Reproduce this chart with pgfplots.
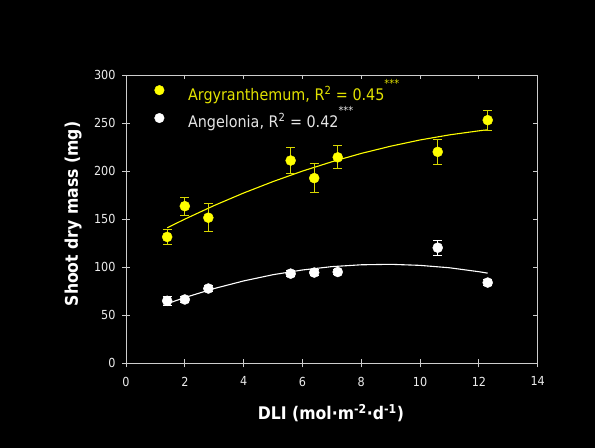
\documentclass[border=0pt]{standalone}
\usepackage{pgfplots}
\pgfplotsset{compat=1.18}
\usepackage{fontspec}
\setmainfont{DejaVu Sans Condensed}
\definecolor{ylw}{RGB}{255,255,0}
\definecolor{ybar}{RGB}{215,215,0}
\definecolor{ytext}{RGB}{225,225,0}
\definecolor{axc}{RGB}{205,205,205}
\pgfplotstableread{
x y e
1.4 131.5 8.2
2.0 163.5 9.5
2.8 151.5 14.3
5.6 211 13.8
6.4 192.7 14.7
7.2 214.3 12
10.6 220 13.3
12.3 253 10.4
}\argy
\pgfplotstableread{
x y e
1.4 65 4.5
2.0 66.4 3
2.8 77.8 3.5
5.6 93.3 3.5
6.4 94.4 3.5
7.2 95 3
10.6 120.3 7.8
12.3 84 3
}\angel
\pgfplotstableread{
x y
1.4 141.0
2 150.0
3 164.2
4 177.2
5 189.1
6 200.0
7 209.7
8 218.4
9 225.9
10 232.4
11 237.7
12 241.9
12.3 243.0
}\argyfit
\pgfplotstableread{
x y
1.4 62.0
2 68.4
3 77.8
4 85.7
5 92.2
6 97.1
7 100.6
8 102.5
9 103.0
10 101.9
11 99.4
12 95.3
12.3 93.8
}\angelfit
\begin{document}
\begin{tikzpicture}[x=1bp,y=1bp]
\fill[black] (0,0) rectangle (595,448);
\useasboundingbox (0,0) rectangle (595,448);
\begin{axis}[
  at={(126bp,84.7bp)}, anchor=south west,
  scale only axis, width=411.7bp, height=288.3bp,
  xmin=0, xmax=14, ymin=0, ymax=300,
  xtick={0,2,...,14}, ytick={0,50,...,300},
  xtick pos=right, ytick pos=right,
  tick align=inside, major tick length=4.5bp,
  xticklabels={}, yticklabels={},
  axis line style={draw=none},
  tick style={axc, line width=0.9bp},
]
\addplot[draw=none] coordinates {(0,0)};
\end{axis}
\begin{axis}[
  at={(126bp,84.7bp)}, anchor=south west,
  scale only axis, width=411.7bp, height=288.3bp,
  xmin=0, xmax=14, ymin=0, ymax=300,
  xtick={0,2,...,14}, ytick={0,50,...,300},
  xtick pos=left, ytick pos=left,
  tick align=center, major tick length=8bp,
  axis line style={axc, line width=0.9bp},
  tick style={axc, line width=0.9bp},
  /pgf/number format/assume math mode=true,
  ticklabel style={font=\fontsize{12.5}{14}\selectfont, text=white!92!black},
  xticklabel style={yshift=-6bp},
  yticklabel style={xshift=-3bp},
  xlabel={DLI (mol·m\textsuperscript{-2}·d\textsuperscript{-1})},
  ylabel={Shoot dry mass (mg)},
  label style={text=white, font=\bfseries\fontsize{17.5}{20}\selectfont},
  xlabel style={at={(axis description cs:0.4977,-0.172)}, anchor=center},
  ylabel style={at={(axis description cs:-0.1287,0.518)}, anchor=center},
  legend style={at={(axis description cs:0.068,0.992)}, anchor=north west,
    draw=none, fill=none, font=\fontsize{16}{18}\selectfont, row sep=1bp,
    inner sep=0pt},
  legend cell align=left,
]
\addlegendimage{legend image code/.code={\path (0bp,0bp) -- (31.5bp,0bp); \fill[ylw] (5bp,0.5bp) circle (4.8bp);}}
\addlegendentry[text=ytext]{Argyranthemum, R\textsuperscript{2} = 0.45\raisebox{0.8em}{\fontsize{11}{12}\selectfont ***}}
\addlegendimage{legend image code/.code={\path (0bp,0bp) -- (31.5bp,0bp); \fill[white] (5bp,0bp) circle (4.8bp);}}
\addlegendentry[text=white!90!black]{Angelonia, R\textsuperscript{2} = 0.42\raisebox{0.8em}{\fontsize{11}{12}\selectfont ***}}

\addplot[ylw, line width=1.1bp, no marks, forget plot] table[x=x,y=y] {\argyfit};
\addplot[white, line width=1.1bp, no marks, forget plot] table[x=x,y=y] {\angelfit};

\addplot[only marks, mark=*, mark size=5bp, draw=ylw, fill=ylw, forget plot,
  error bars/.cd, y dir=both, y explicit,
  error bar style={line width=1bp, color=ybar},
  error mark options={rotate=90, mark size=4.5bp, line width=1bp, color=ybar}]
  table[x=x, y=y, y error=e] {\argy};
\addplot[only marks, mark=*, mark size=5bp, draw=white, fill=white, forget plot,
  error bars/.cd, y dir=both, y explicit,
  error bar style={line width=1bp, color=white},
  error mark options={rotate=90, mark size=4.5bp, line width=1bp, color=white}]
  table[x=x, y=y, y error=e] {\angel};
\end{axis}
\end{tikzpicture}
\end{document}
